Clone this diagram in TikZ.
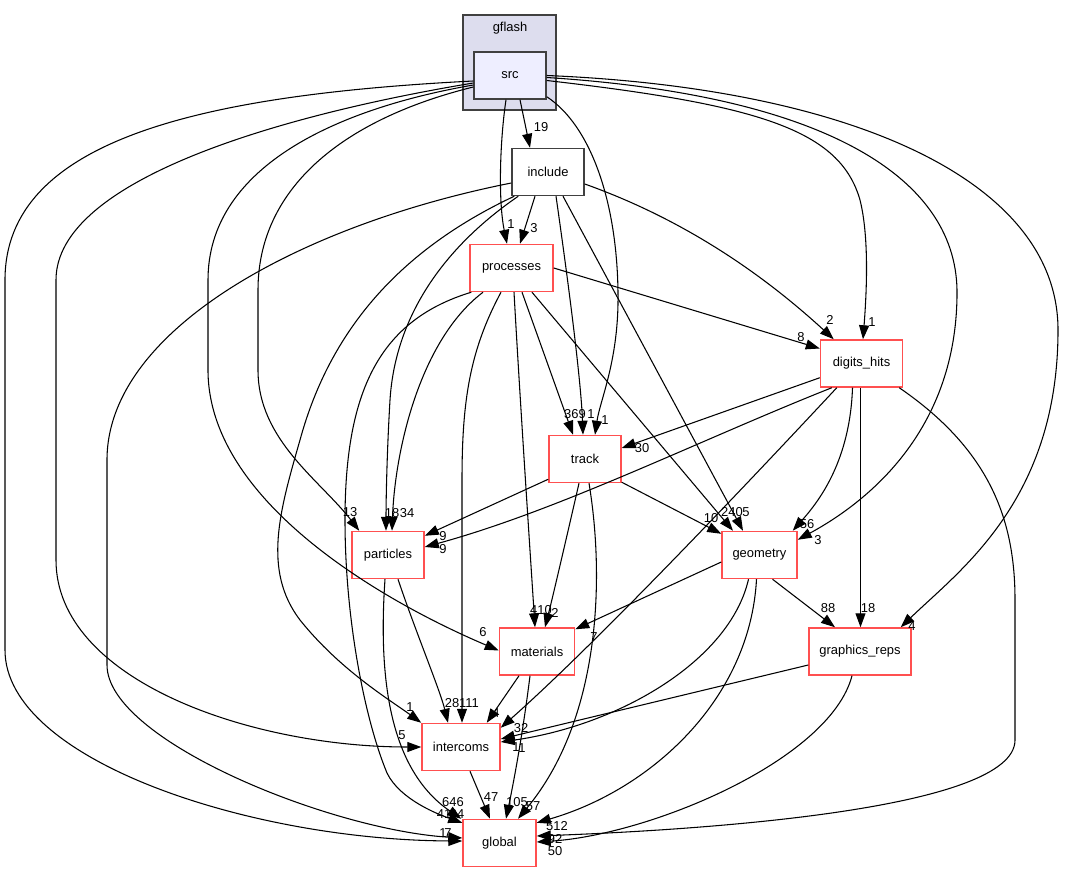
\documentclass[tikz,border=0pt]{standalone}
\usepackage{fontspec}
\setmainfont{Liberation Sans}
\usetikzlibrary{arrows.meta,calc}
\definecolor{redb}{RGB}{255,80,80}
\definecolor{clfill}{RGB}{221,221,238}
\definecolor{srcfill}{RGB}{238,238,255}
\definecolor{dgray}{RGB}{64,64,64}
\begin{document}
\begin{tikzpicture}[x=0.75pt,y=-0.75pt,
  every node/.style={font=\fontsize{9.7}{11}\selectfont},
  box/.style={draw, line width=1.1pt, minimum height=35.25pt, inner sep=0pt},
  rbox/.style={box, draw=redb, fill=white},
  gbox/.style={box, draw=dgray, fill=white},
  edge/.style={draw=black, line width=0.8pt, -{Triangle[length=10.5pt,width=7.5pt]}},
  lbl/.style={inner sep=0pt}]
\useasboundingbox (0,0) rectangle (1069,873);
\fill[white] (0,0) rectangle (1069,873);
% cluster
\node[draw=dgray, fill=clfill, line width=1.1pt, minimum width=69.75pt, minimum height=71.25pt, inner sep=0pt] (gflash) at (509.5,62.5) {};
\node (gflashlbl) at (510,28) {gflash};
% nodes
\node[box, draw=dgray, fill=srcfill, minimum width=54pt] (src) at (510,75.5) {src};
\node[gbox, minimum width=54pt] (include) at (548,172) {include};
\node[rbox, minimum width=62.25pt] (processes) at (511.5,268) {processes};
\node[rbox, minimum width=61.5pt] (dh) at (861.5,363.5) {digits\_hits};
\node[rbox, minimum width=54pt] (track) at (585,459) {track};
\node[rbox, minimum width=54pt] (particles) at (388,555) {particles};
\node[rbox, minimum width=56.25pt] (geometry) at (759.5,555) {geometry};
\node[rbox, minimum width=56.25pt] (materials) at (537,651.5) {materials};
\node[rbox, minimum width=76.5pt] (gr) at (860,651.5) {graphics\_reps};
\node[rbox, minimum width=58.5pt] (intercoms) at (461,747) {intercoms};
\node[rbox, minimum width=54.75pt] (global) at (499.5,843) {global};
% edges from src
\draw[edge] ($(src.south)+(10,0)$) -- ($(include.north)+(-18,0)$);
\draw[edge] ($(src.south)+(-4,0)$) .. controls (500,140) and (498,200) .. ($(processes.north)+(-4.5,0)$);
\draw[edge] ($(src.south east)+(0,-3)$) .. controls (590,125) and (617,200) .. (618,293) .. controls (619,360) and (600,400) .. ($(track.north)+(10,0)$);
\draw[edge] ($(src.east)+(0,5)$) .. controls (760,105) and (840,130) .. (860,200) .. controls (870,240) and (866,300) .. ($(dh.north)+(1.5,0)$);
\draw[edge] ($(src.east)+(0,2)$) .. controls (820,95) and (955,175) .. (957,290) .. controls (958,420) and (880,495) .. ($(geometry.north east)+(0,9)$);
\draw[edge] ($(src.east)+(0,0)$) .. controls (850,88) and (1058,180) .. (1058,330) .. controls (1058,500) and (960,570) .. ($(gr.north east)+(-11,0)$);
\draw[edge] ($(src.west)+(0,5.5)$) .. controls (200,95) and (5,140) .. (5,280) -- (5,650) .. controls (5,760) and (250,840) .. ($(global.west)+(0,-2)$);
\draw[edge] ($(src.west)+(0,7.5)$) .. controls (280,115) and (56,180) .. (56,280) -- (56,560) .. controls (56,680) and (250,747) .. (intercoms.west);
\draw[edge] ($(src.west)+(0,9.5)$) .. controls (330,110) and (208,170) .. (208,280) -- (208,370) .. controls (208,500) and (380,600) .. ($(materials.west)+(0,-1)$);
\draw[edge] ($(src.west)+(0,11.5)$) .. controls (340,120) and (258,190) .. (258,290) -- (258,370) .. controls (258,440) and (320,480) .. ($(particles.north west)+(8,0)$);
% edges from include
\draw[edge] ($(include.south)+(-13,0)$) -- ($(processes.north)+(8.5,0)$);
\draw[edge] ($(include.south)+(8,0)$) .. controls (568,280) and (581,380) .. ($(track.north)+(-2,0)$);
\draw[edge] ($(include.south)+(15,0)$) -- ($(geometry.north)+(-16.5,0)$);
\draw[edge] ($(include.east)+(0,12)$) .. controls (700,225) and (780,290) .. ($(dh.north west)+(14,0)$);
\draw[edge] ($(include.west)+(0,11)$) .. controls (300,225) and (107,330) .. (107,460) -- (107,665) .. controls (107,740) and (330,830) .. ($(global.west)+(0,-5)$);
\draw[edge] ($(include.south west)+(3,0)$) .. controls (400,250) and (330,330) .. (300,440) .. controls (280,510) and (262,570) .. (300,620) .. controls (340,670) and (390,700) .. (intercoms.north west);
\draw[edge] ($(include.south west)+(7,0)$) .. controls (440,250) and (395,320) .. (390,400) .. controls (387,450) and (386,500) .. ($(particles.north)+(-2,0)$);
% edges from processes
\draw[edge] (processes.east) -- ($(dh.west)+(0,-15)$);
\draw[edge] ($(processes.south)+(10.5,0)$) -- ($(track.north)+(-12,0)$);
\draw[edge] ($(processes.south)+(20.5,0)$) -- ($(geometry.north)+(-26.5,0)$);
\draw[edge] ($(processes.south)+(2.5,0)$) .. controls (520,400) and (530,550) .. ($(materials.north)+(-2,0)$);
\draw[edge] ($(processes.south)+(-10.5,0)$) .. controls (470,350) and (462,400) .. (462,480) -- ($(intercoms.north)+(1,0)$);
\draw[edge] ($(processes.south)+(-28.5,0)$) .. controls (420,340) and (395,450) .. ($(particles.north)+(4,0)$);
\draw[edge] ($(processes.south west)+(2,0)$) .. controls (380,320) and (345,390) .. (345,520) .. controls (345,620) and (365,720) .. (387,773) .. controls (400,800) and (440,815) .. ($(global.north west)+(0,4)$);
% edges from digits_hits
\draw[edge] ($(dh.south west)+(0,-10)$) -- ($(track.east)+(0,-11)$);
\draw[edge] ($(dh.south west)+(12,0)$) .. controls (700,440) and (560,510) .. ($(particles.east)+(0,-8)$);
\draw[edge] ($(dh.south west)+(17,0)$) .. controls (760,470) and (600,640) .. ($(intercoms.north east)+(0,5)$);
\draw[edge] ($(dh.south)+(-9,0)$) .. controls (850,460) and (820,500) .. ($(geometry.north east)+(-5,0)$);
\draw[edge] ($(dh.south)+(-1,0)$) -- ($(gr.north)+(0.5,0)$);
\draw[edge] ($(dh.south east)+(-4,0)$) .. controls (990,450) and (1015,520) .. (1015,600) -- (1015,740) .. controls (1015,810) and (700,830) .. ($(global.east)+(0,-7)$);
% edges from track
\draw[edge] ($(track.south west)+(0,-4)$) -- ($(particles.north east)+(0,5)$);
\draw[edge] ($(track.south east)+(0,-1)$) -- ($(geometry.north west)+(0,3)$);
\draw[edge] ($(track.south)+(-6,0)$) .. controls (566,540) and (552,600) .. ($(materials.north)+(8,0)$);
\draw[edge] ($(track.south)+(4,0)$) .. controls (605,580) and (600,720) .. ($(global.north)+(18.5,0)$);
% edges from geometry
\draw[edge] ($(geometry.west)+(0,7)$) -- ($(materials.north east)+(0,2)$);
\draw[edge] ($(geometry.south)+(13,0)$) -- ($(gr.north)+(-25,0)$);
\draw[edge] ($(geometry.south)+(-11,0)$) .. controls (730,660) and (620,725) .. ($(intercoms.east)+(0,-5)$);
\draw[edge] ($(geometry.south)+(-3,0)$) .. controls (750,700) and (650,790) .. ($(global.north east)+(0,4)$);
% edges from graphics_reps
\draw[edge] ($(gr.west)+(0,13.5)$) -- ($(intercoms.east)+(0,-8)$);
\draw[edge] ($(gr.south)+(-8,0)$) .. controls (830,760) and (650,835) .. ($(global.east)+(0,-1)$);
% edges from particles
\draw[edge] ($(particles.south)+(-3,0)$) .. controls (378,680) and (390,770) .. ($(global.north west)+(-1,0)$);
\draw[edge] ($(particles.south)+(10,0)$) .. controls (415,630) and (440,690) .. ($(intercoms.north)+(-13,0)$);
% edges from materials
\draw[edge] ($(materials.south)+(-18,0)$) -- ($(intercoms.north east)+(-14,0)$);
\draw[edge] ($(materials.south)+(-7,0)$) .. controls (522,740) and (512,790) .. ($(global.north)+(6.5,0)$);
% intercoms
\draw[edge] ($(intercoms.south)+(9,0)$) -- ($(global.north)+(-9.5,0)$);
% labels
\node[lbl] (l1) at (541,127) {19};
\node[lbl] (l2) at (511,224) {1};
\node[lbl] (l3) at (534,228) {3};
\node[lbl] (l4) at (575,414) {369};
\node[lbl] (l5) at (591,414) {1};
\node[lbl] (l6) at (605,420) {1};
\node[lbl] (l7) at (830,320) {2};
\node[lbl] (l8) at (872,322) {1};
\node[lbl] (l9) at (801,337) {8};
\node[lbl] (l10) at (642,448) {30};
\node[lbl] (l11) at (350,512) {13};
\node[lbl] (l12) at (392,513) {18};
\node[lbl] (l13) at (407,513) {34};
\node[lbl] (l14) at (443,536) {9};
\node[lbl] (l15) at (443,549) {9};
\node[lbl] (l16) at (711,518) {10};
\node[lbl] (l17) at (732,512) {240};
\node[lbl] (l18) at (746,512) {5};
\node[lbl] (l19) at (807,524) {56};
\node[lbl] (l20) at (818,540) {3};
\node[lbl] (l21) at (483,632) {6};
\node[lbl] (l22) at (541,610) {410};
\node[lbl] (l23) at (555,613) {2};
\node[lbl] (l24) at (594,637) {7};
\node[lbl] (l25) at (828,608) {88};
\node[lbl] (l26) at (868,608) {18};
\node[lbl] (l27) at (912,626) {4};
\node[lbl] (l28) at (410,707) {1};
\node[lbl] (l29) at (452,703) {28};
\node[lbl] (l30) at (469,703) {111};
\node[lbl] (l31) at (496,713) {4};
\node[lbl] (l32) at (402,735) {5};
\node[lbl] (l33) at (521,728) {32};
\node[lbl] (l34) at (516,747) {1};
\node[lbl] (l35) at (522,748) {1};
\node[lbl] (l36) at (453,802) {646};
\node[lbl] (l37) at (444,814) {41};
\node[lbl] (l38) at (457,814) {94};
\node[lbl] (l39) at (443,833) {1};
\node[lbl] (l40) at (448,833) {7};
\node[lbl] (l41) at (491,797) {47};
\node[lbl] (l42) at (517,802) {105};
\node[lbl] (l43) at (533,806) {57};
\node[lbl] (l44) at (557,826) {512};
\node[lbl] (l45) at (555,839) {92};
\node[lbl] (l46) at (555,851) {50};
\end{tikzpicture}
\end{document}
